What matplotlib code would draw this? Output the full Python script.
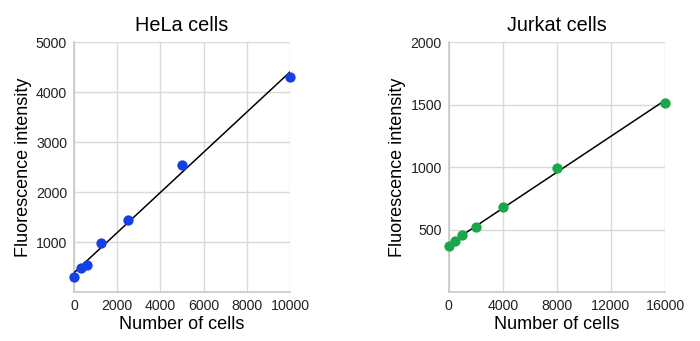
import numpy as np
import matplotlib
matplotlib.use('Agg')
import matplotlib.pyplot as plt

plt.rcParams['font.family'] = ['Liberation Sans', 'DejaVu Sans']

# HeLa calibration
hela_cells = [0, 312, 625, 1250, 2500, 5000, 10000]
hela_fluor = [303, 475, 548, 980, 1445, 2541, 4309]

# Jurkat calibration
jurkat_cells = [0, 500, 1000, 2000, 4000, 8000, 16000]
jurkat_fluor = [369, 409, 455, 524, 682, 989, 1516]

hela_xticks = [0, 2000, 4000, 6000, 8000, 10000]
hela_yticks = [1000, 2000, 3000, 4000, 5000]
jurkat_xticks = [0, 4000, 8000, 12000, 16000]
jurkat_yticks = [500, 1000, 1500, 2000]

fig = plt.figure(figsize=(7, 3.41), dpi=100)
ax1 = fig.add_axes([0.1057, 0.1437, 0.3086, 0.733])
ax2 = fig.add_axes([0.641, 0.1437, 0.309, 0.733])


def draw(ax, x, y, color, title, xticks, yticks, xmax, ymax):
    x = np.array(x, dtype=float)
    y = np.array(y, dtype=float)
    m, b = np.polyfit(x, y, 1)
    xs = np.array([x.min(), x.max()])
    ax.plot(xs, m * xs + b, color='black', lw=1.1, zorder=3)
    ax.scatter(x, y, s=55, color=color, zorder=4, clip_on=False, linewidths=0)
    ax.set_xlim(0, xmax)
    ax.set_ylim(0, ymax)
    ax.set_xticks(xticks)
    ax.set_yticks(yticks)
    ax.grid(True, color='#d9d9d9', lw=1)
    ax.set_axisbelow(True)
    for s in ['top', 'right']:
        ax.spines[s].set_visible(False)
    for s in ['left', 'bottom']:
        ax.spines[s].set_color('#c8c8c8')
        ax.spines[s].set_linewidth(1.2)
    ax.tick_params(length=0, labelsize=10.2, colors='#222222', pad=5)
    ax.set_title(title, fontsize=14.3, pad=8)
    ax.set_xlabel('Number of cells', fontsize=13, labelpad=2)
    ax.set_ylabel('Fluorescence intensity', fontsize=13, labelpad=3)


draw(ax1, hela_cells, hela_fluor, '#1440e6', 'HeLa cells',
     hela_xticks, hela_yticks, 10000, 5000)
draw(ax2, jurkat_cells, jurkat_fluor, '#1aa64a', 'Jurkat cells',
     jurkat_xticks, jurkat_yticks, 16000, 2000)

fig.savefig('out.png', dpi=100)
